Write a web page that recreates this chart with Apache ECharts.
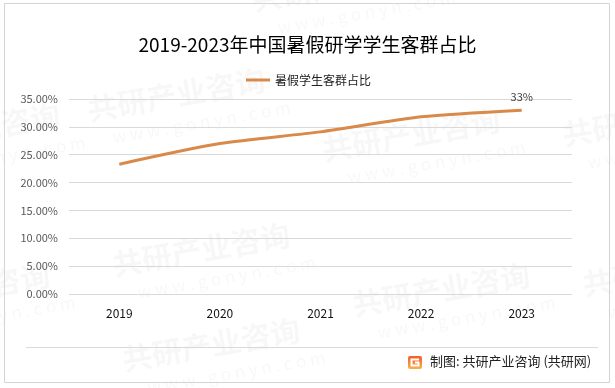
<!DOCTYPE html>
<html>
<head>
<meta charset="utf-8">
<script src="https://cdn.jsdelivr.net/npm/echarts@6/dist/echarts.min.js"></script>
<style>
html,body{margin:0;padding:0;background:#fff;}
#c{width:615px;height:388px;}
</style>
</head>
<body>
<div id="c"></div>
<script>
var categories = ['2019', '2020', '2021', '2022', '2023'];
var shareValues = [0.233, 0.270, 0.291, 0.318, 0.330];
var seriesName = '暑假学生客群占比';
var titleText = '2019-2023年中国暑假研学学生客群占比';
var sourceText = '制图: 共研产业咨询 (共研网)';

var FONT = '"Noto Sans CJK SC", "Noto Sans", sans-serif';
var lineColor = '#D98A4A';

function wm(x, y) {
  return {
    type: 'group', x: x, y: y, rotation: 0.17, silent: true,
    children: [
      {type: 'text', x: 0, y: 0, style: {text: '共研产业咨询', fontSize: 30, fontWeight: 'bold', fill: 'rgba(0,0,0,0.032)', fontFamily: FONT}},
      {type: 'text', x: 20, y: 38, style: {text: 'w w w . g o n y n . c o m', fontSize: 17, fill: 'rgba(0,0,0,0.032)', fontFamily: FONT}}
    ]
  };
}

var chart = echarts.init(document.getElementById('c'), null, {renderer: 'canvas'});
var lastIdx = shareValues.length - 1;
var data = shareValues.map(function (v, i) {
  if (i === lastIdx) {
    return {value: v, label: {show: true, position: 'top', distance: 8, color: '#404040', fontSize: 11, fontFamily: FONT,
      formatter: function (p) { return Math.round(p.value * 100) + '%'; }}};
  }
  return {value: v, label: {show: false}};
});

chart.setOption({
  animation: false,
  backgroundColor: '#fff',
  title: {
    text: titleText, left: 'center', top: 30,
    textStyle: {fontSize: 19, fontWeight: 'normal', color: '#000', fontFamily: FONT}
  },
  legend: {
    top: 69, left: 241,
    itemWidth: 24, itemHeight: 3, itemGap: 6,
    icon: 'rect',
    textStyle: {fontSize: 12, color: '#222', fontFamily: FONT},
    data: [seriesName]
  },
  grid: {left: 69, right: 43, top: 99, bottom: 94},
  xAxis: {
    type: 'category', data: categories, boundaryGap: true,
    axisLine: {show: false}, axisTick: {show: false},
    axisLabel: {color: '#111', fontSize: 12, margin: 13, fontFamily: FONT}
  },
  yAxis: {
    type: 'value', min: 0, max: 0.35, interval: 0.05,
    axisLine: {show: false}, axisTick: {show: false},
    splitLine: {lineStyle: {color: '#d9d9d9', width: 1}},
    axisLabel: {color: '#595959', fontSize: 11, margin: 11, fontFamily: FONT,
      formatter: function (v) { return (v * 100).toFixed(2) + '%'; }}
  },
  series: [{
    name: seriesName, type: 'line', data: data,
    smooth: 0.25, symbol: 'circle', symbolSize: 0.1, showSymbol: true,
    lineStyle: {color: lineColor, width: 3},
    itemStyle: {color: lineColor}
  }],
  graphic: [
    wm(85, 95), wm(320, 135), wm(560, 120), wm(-120, 130), wm(250, -15),
    wm(110, 250), wm(350, 290), wm(-130, 290), wm(580, 270), wm(120, 345),
    {type: 'rect', silent: true, shape: {x: 4.5, y: 3.5, width: 605, height: 379},
      style: {fill: 'none', stroke: '#d4d4d4', lineWidth: 1}},
    {type: 'line', silent: true, shape: {x1: 26, y1: 347.5, x2: 598, y2: 347.5},
      style: {stroke: '#d9d9d9', lineWidth: 1}},
    {type: 'group', x: 408, y: 356, children: [
      {type: 'rect', shape: {x: 0, y: 0, width: 14, height: 13, r: 2},
        style: {fill: new echarts.graphic.LinearGradient(0, 0, 0, 1, [{offset: 0, color: '#F25C2A'}, {offset: 1, color: '#F9B24A'}])}},
      {type: 'polyline', shape: {points: [[11, 3.5], [3.5, 3.5], [3.5, 9.5], [10.5, 9.5], [10.5, 6.5], [7, 6.5]]},
        style: {stroke: '#fff', lineWidth: 2, fill: 'none'}}
    ]},
    {type: 'text', x: 430, y: 355, style: {text: sourceText, fontSize: 13, fill: '#222', fontFamily: FONT}}
  ]
});
</script>
</body>
</html>
